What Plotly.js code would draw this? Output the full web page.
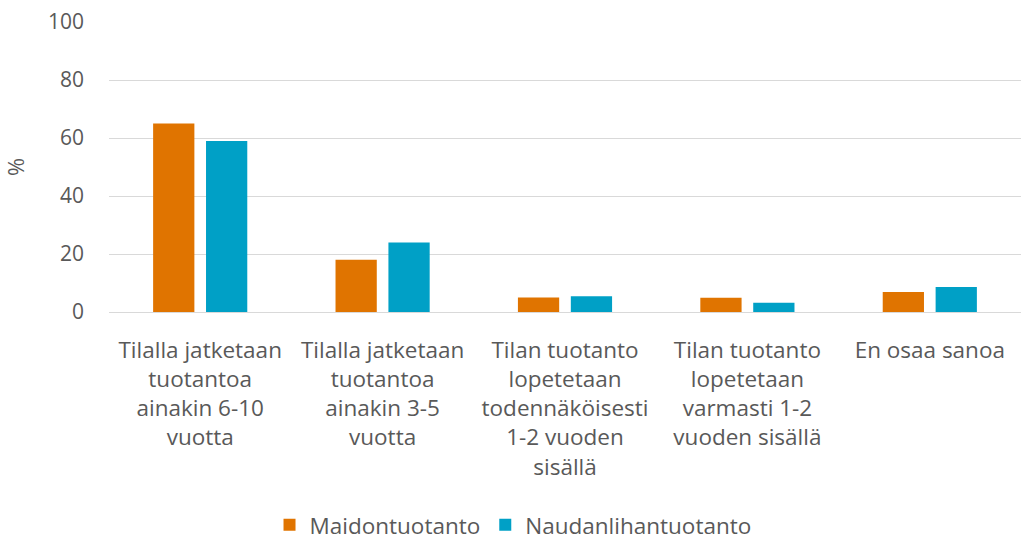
<!DOCTYPE html>
<html>
<head>
<meta charset="utf-8">
<script src="https://cdn.plot.ly/plotly-3.0.1.min.js"></script>
<style>html,body{margin:0;padding:0;background:#fff;}#chart{width:1024px;height:543px;}</style>
</head>
<body>
<div id="chart"></div>
<script>
const categories = [
  "Tilalla jatketaan<br>tuotantoa<br>ainakin 6-10<br>vuotta",
  "Tilalla jatketaan<br>tuotantoa<br>ainakin 3-5<br>vuotta",
  "Tilan tuotanto<br>lopetetaan<br>todennäköisesti<br>1-2 vuoden<br>sisällä",
  "Tilan tuotanto<br>lopetetaan<br>varmasti 1-2<br>vuoden sisällä",
  "En osaa sanoa"
];
const maidontuotanto = [65, 18, 5, 4.9, 6.9];
const naudanlihantuotanto = [59, 24, 5.4, 3.2, 8.6];
const seriesNames = ["Maidontuotanto", "Naudanlihantuotanto"];
const yTicks = [0, 20, 40, 60, 80, 100];

const family = "Open Sans, Noto Sans, sans-serif";
const grey = "#595959";
const tickFont = {family: family, size: 21, color: grey};
const catFont = {family: family, size: 22.5, color: grey};
const legendFont = {family: family, size: 22.5, color: grey};

const traces = [
  {type: "bar", name: seriesNames[0], x: categories, y: maidontuotanto,
   marker: {color: "#e07400"}},
  {type: "bar", name: seriesNames[1], x: categories, y: naudanlihantuotanto,
   marker: {color: "#00a0c6"}}
];

const layout = {
  width: 1024, height: 543,
  margin: {l: 109, r: 3, t: 22, b: 231, autoexpand: false},
  paper_bgcolor: "#fff", plot_bgcolor: "#fff",
  font: tickFont,
  barmode: "group", bargap: 0.42, bargroupgap: 0.22,
  showlegend: true,
  legend: {orientation: "h", x: 0.443, xanchor: "center", y: -0.735, yanchor: "middle",
           font: legendFont, traceorder: "normal"},
  xaxis: {tickfont: catFont, showgrid: false, showline: false, ticks: "", automargin: false,
          ticklabelstandoff: 22},
  yaxis: {range: [0, 100], tickvals: yTicks, tickfont: tickFont, showgrid: true,
          gridcolor: "#d9d9d9", gridwidth: 1, zeroline: true, zerolinecolor: "#d9d9d9",
          showline: false, ticks: "", ticklen: 0, automargin: false,
          ticklabelstandoff: 24,
          title: {text: "%", font: {family: family, size: 22, color: grey}, standoff: 34}}
};

Plotly.newPlot("chart", traces, layout, {displayModeBar: false, staticPlot: true});
</script>
</body>
</html>
